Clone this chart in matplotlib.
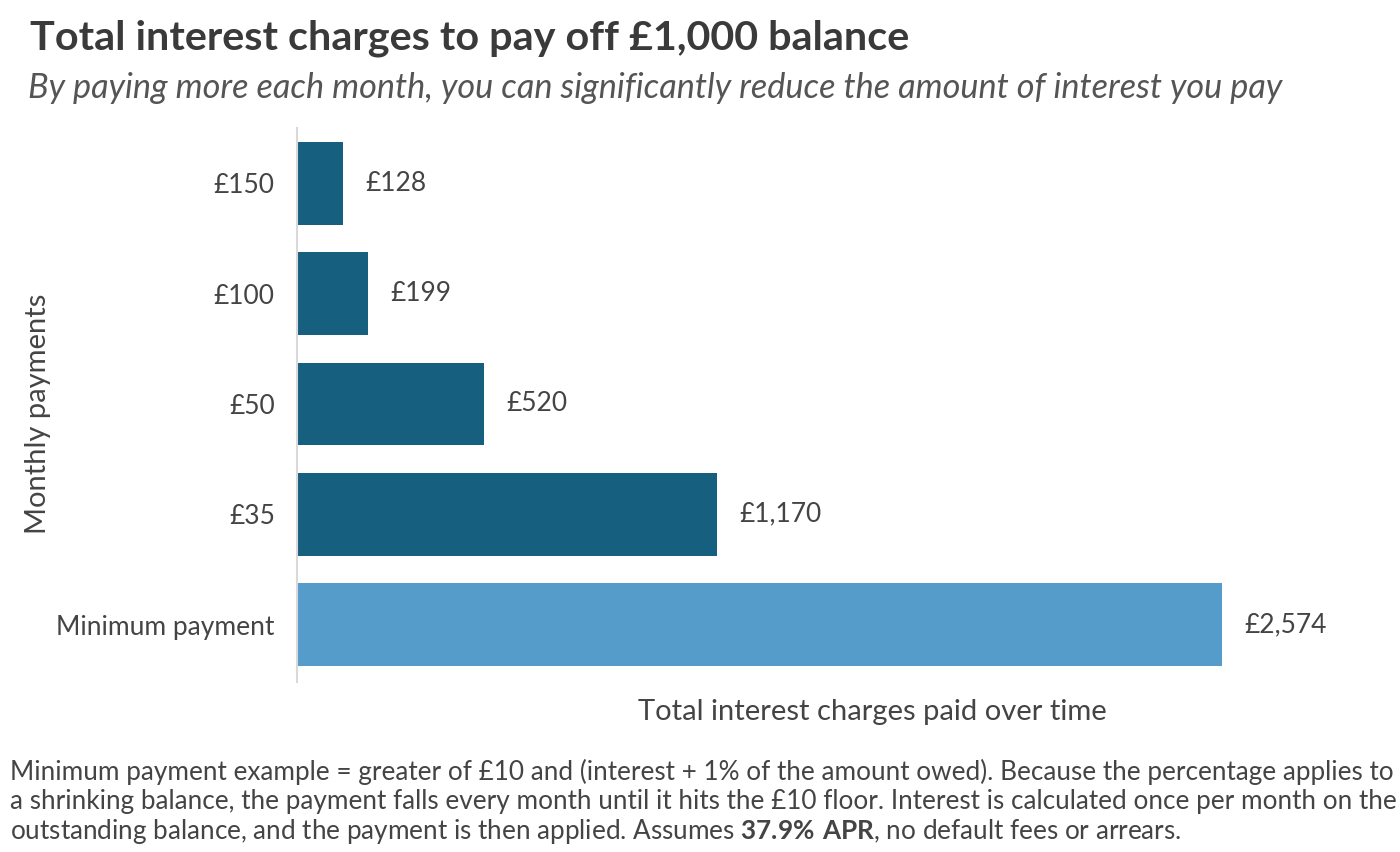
import matplotlib
matplotlib.use("Agg")
import matplotlib.pyplot as plt

categories = ["Minimum payment", "£35", "£50", "£100", "£150"]
values = [2574, 1170, 520, 199, 128]
value_labels = ["£2,574", "£1,170", "£520", "£199", "£128"]
bar_colors = ["#559CCB", "#175F7E", "#175F7E", "#175F7E", "#175F7E"]

plt.rcParams['font.family'] = ['Lato', 'DejaVu Sans']
plt.rcParams['mathtext.fontset'] = 'custom'
plt.rcParams['mathtext.bf'] = 'Lato:bold'
plt.rcParams['mathtext.rm'] = 'Lato'
TXT = "#444444"

fig = plt.figure(figsize=(14, 8.52), dpi=100)
W, H = 1400, 852
ax_left, ax_right = 297, 1303
ax_top, ax_bot = 128, 682
ax = fig.add_axes([ax_left / W, 1 - ax_bot / H, (ax_right - ax_left) / W, (ax_bot - ax_top) / H])

y = list(range(len(categories)))
ax.barh(y, values, height=0.75, color=bar_colors)
ax.set_xlim(0, 2800)
ax.set_ylim(-0.52, 4.5)
for yi, v, lab in zip(y, values, value_labels):
    ax.text(v + 62, yi, lab, va='center', ha='left', fontsize=19, color=TXT)

ax.set_yticks(y)
ax.set_yticklabels(categories, fontsize=19, color=TXT)
ax.tick_params(axis='y', length=0, pad=16)
ax.set_xticks([])
for s in ['top', 'right', 'bottom']:
    ax.spines[s].set_visible(False)
ax.spines['left'].set_color('#d9d9d9')
ax.spines['left'].set_linewidth(1.5)

fig.text(38 / W, 1 - 414 / H, "Monthly payments", rotation=90, ha='center', va='center',
         fontsize=21, color=TXT)
fig.text(872 / W, 1 - 712 / H, "Total interest charges paid over time", ha='center', va='center',
         fontsize=21, color=TXT)

fig.text(30 / W, 1 - 38 / H, "Total interest charges to pay off £1,000 balance", ha='left', va='center',
         fontsize=29.8, fontweight='bold', color="#3a3a3a")
fig.text(28 / W, 1 - 88 / H, "By paying more each month, you can significantly reduce the amount of interest you pay",
         ha='left', va='center', fontsize=24.7, fontstyle='italic', color="#555555")

foot1 = "Minimum payment example = greater of £10 and (interest + 1% of the amount owed). Because the percentage applies to"
foot2 = "a shrinking balance, the payment falls every month until it hits the £10 floor. Interest is calculated once per month on the"
foot3 = "outstanding balance, and the payment is then applied. Assumes $\\mathbf{37.9\\%\\ APR}$, no default fees or arrears."
for i, t in enumerate([foot1, foot2, foot3]):
    fig.text(10 / W, 1 - (772 + 29.5 * i) / H, t, ha='left', va='center', fontsize=18.8, color=TXT)

fig.savefig("out.png", dpi=100, facecolor='white')
